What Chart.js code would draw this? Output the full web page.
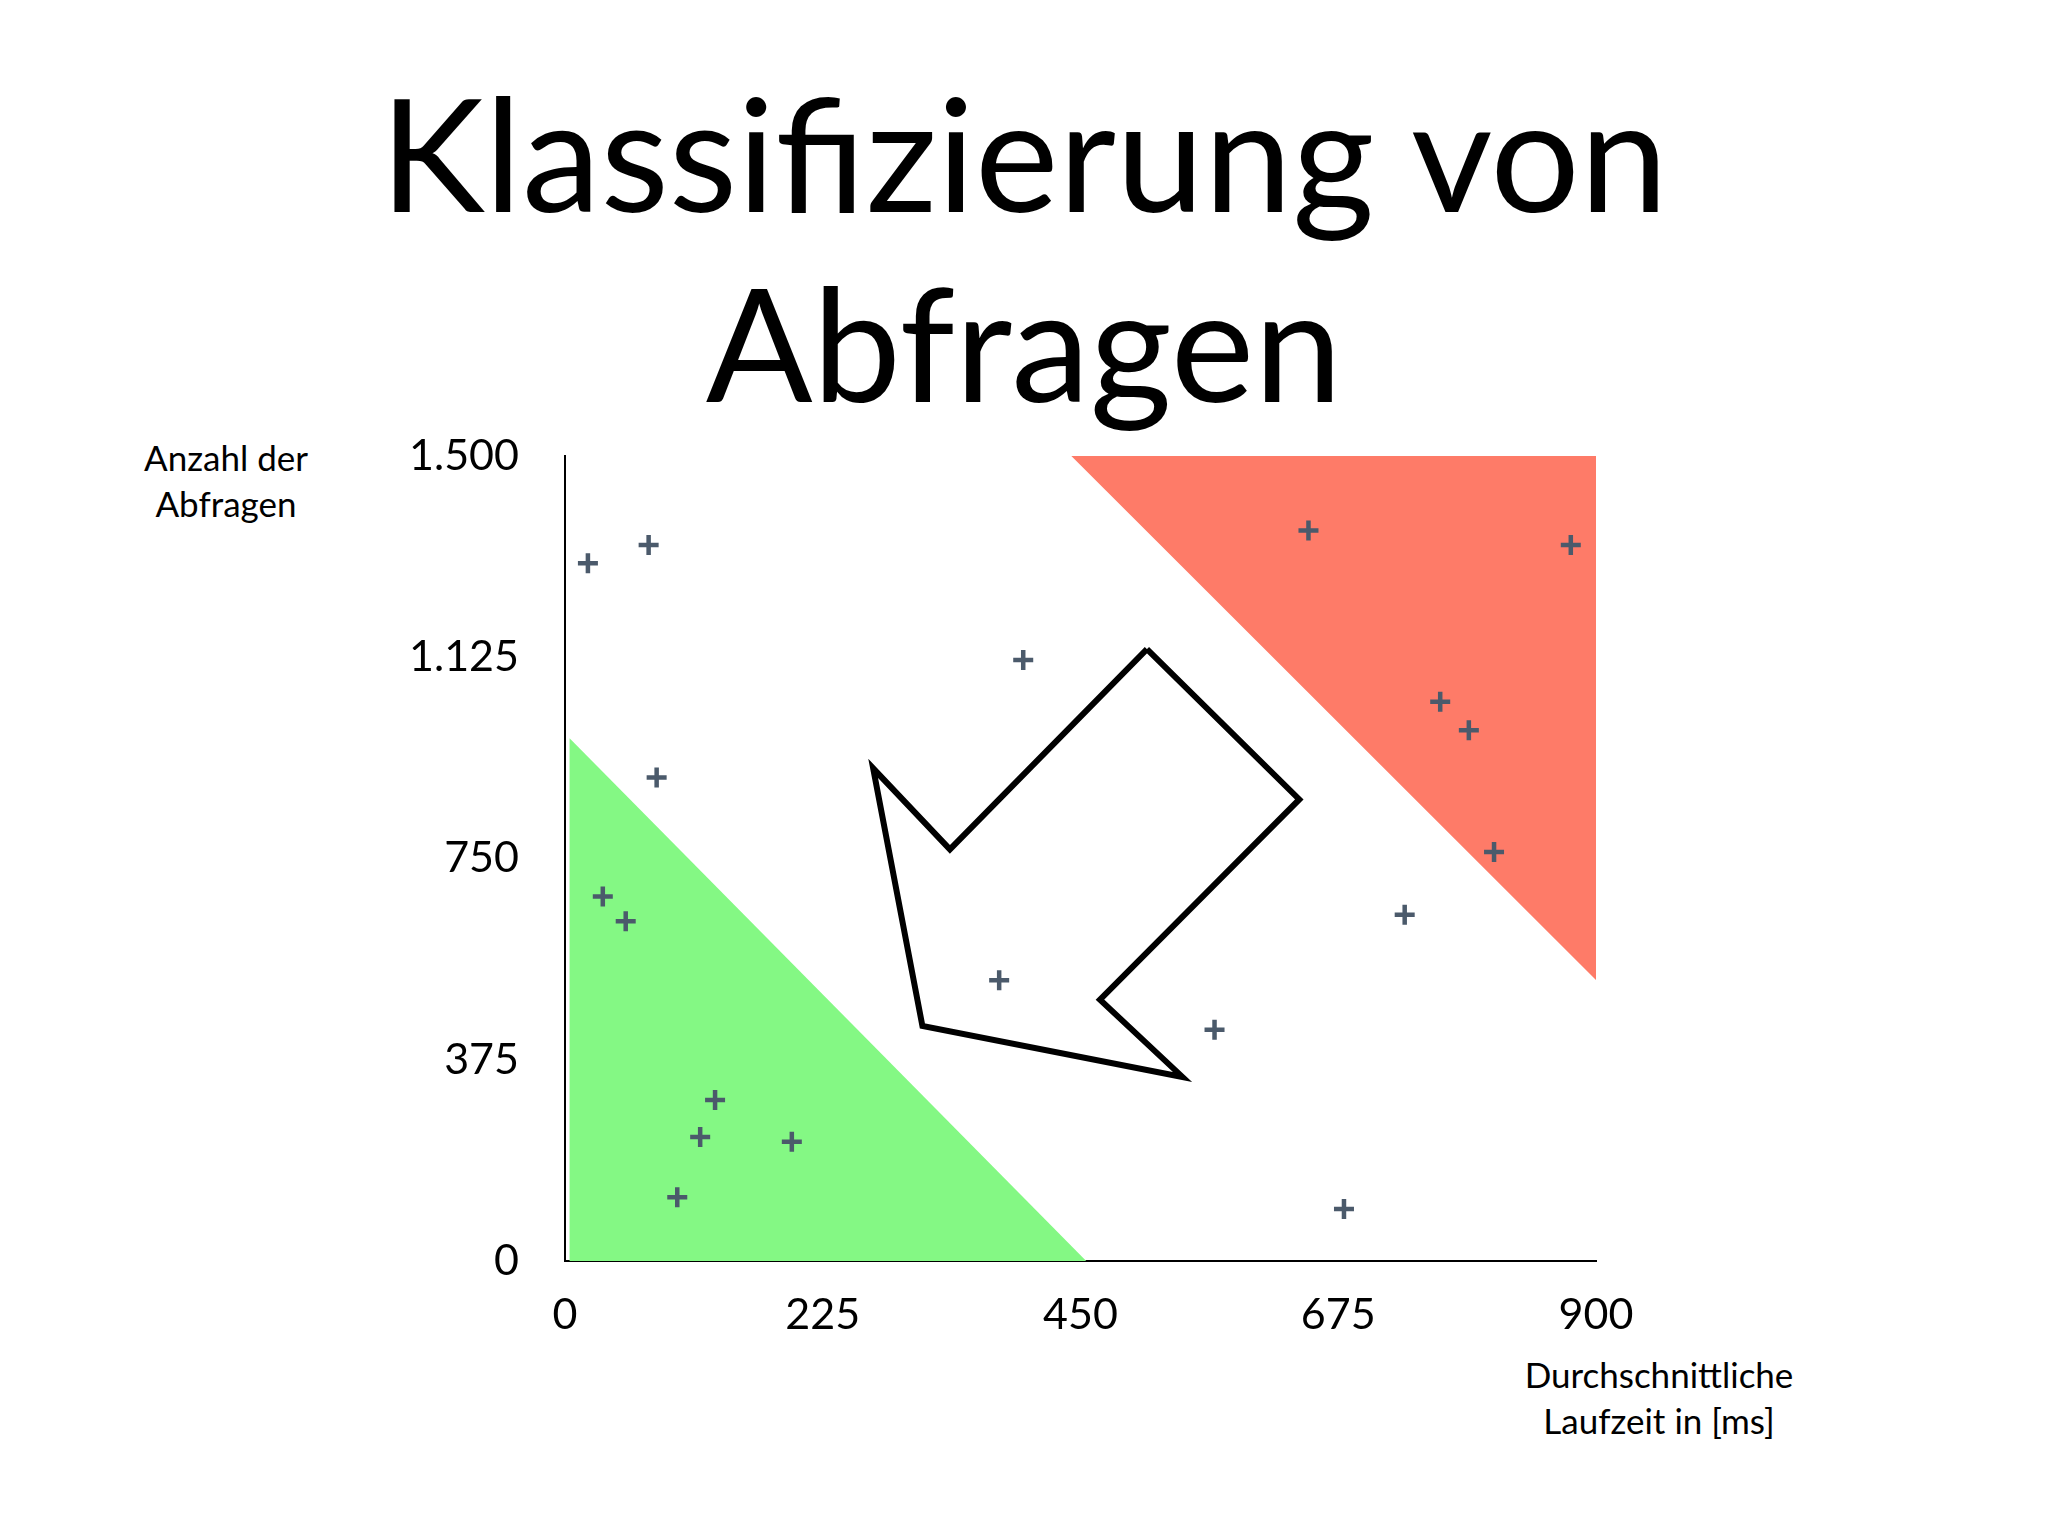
<!DOCTYPE html>
<html><head><meta charset="utf-8">
<script src="https://cdn.jsdelivr.net/npm/chart.js@4"></script>
<style>
body{margin:0;background:#fff;width:2048px;height:1536px;overflow:hidden;font-family:Lato,"Open Sans",sans-serif;}
#wrap{position:absolute;left:0;top:0;width:2048px;height:1536px;}
.t{position:absolute;left:0;width:2048px;text-align:center;font-size:158px;line-height:1;color:#000;}
.lab{position:absolute;font-size:35px;line-height:46px;text-align:center;color:#000;}
</style></head><body>
<div class="t" style="top:72px">Klassifizierung von</div>
<div class="t" style="top:262px">Abfragen</div>
<div class="lab" style="left:106px;top:434px;width:240px">Anzahl der<br>Abfragen</div>
<div class="lab" style="left:1479px;top:1351px;width:360px">Durchschnittliche<br>Laufzeit in [ms]</div>
<div id="wrap"><canvas id="c" width="2048" height="1536"></canvas></div>
<script>
const xTicks=[0,225,450,675,900];
const yTicks=[0,375,750,1125,1500];
const queries=[
{x:20,y:1300},{x:73,y:1334},{x:80,y:901},{x:33,y:679},{x:53,y:633},
{x:131,y:300},{x:118,y:231},{x:198,y:222},{x:98,y:119},
{x:400,y:1120},{x:379,y:523},{x:567,y:431},{x:680,y:97},{x:733,y:645},
{x:649,y:1361},{x:878,y:1334},{x:764,y:1042},{x:789,y:989},{x:811,y:762}];
const greenZone=[{x:4,y:0},{x:4,y:974},{x:455,y:0},{x:4,y:0}];
const redZone=[{x:442,y:1500},{x:906,y:1500},{x:906,y:511},{x:442,y:1500}];
const arrow=[{x:508,y:1140},{x:641,y:860},{x:467,y:487},{x:539,y:343},{x:312,y:438},{x:269,y:918},{x:336,y:767},{x:508,y:1140}];
Chart.defaults.font.family='Lato, "Open Sans", sans-serif';
new Chart(document.getElementById('c'),{
type:'scatter',
data:{datasets:[
{data:greenZone,showLine:true,fill:'shape',backgroundColor:'#84f884',borderWidth:0,pointRadius:0,order:5,clip:false},
{data:redZone,showLine:true,fill:'shape',backgroundColor:'#fe7b68',borderWidth:0,pointRadius:0,order:4,clip:false},
{data:arrow,showLine:true,fill:false,borderColor:'#000',borderWidth:6,pointRadius:0,order:3,clip:false,borderJoinStyle:'miter'},
{data:queries,pointStyle:'cross',pointRadius:10,borderWidth:4.5,borderColor:'#4b5a6b',backgroundColor:'#4b5a6b',order:1}
]},
options:{responsive:false,animation:false,
layout:{padding:{left:0,top:456,right:452,bottom:0}},
plugins:{legend:{display:false},tooltip:{enabled:false}},
scales:{
x:{type:'linear',min:0,max:900,afterBuildTicks:a=>{a.ticks=xTicks.map(v=>({value:v}));},
 afterFit:s=>{s.height=275;},grid:{display:false},border:{display:true,color:'#000',width:2},
 ticks:{color:'#000',font:{size:43},padding:20}},
y:{type:'linear',min:0,max:1500,afterBuildTicks:a=>{a.ticks=yTicks.map(v=>({value:v}));},
 afterFit:s=>{s.width=565;},grid:{display:false},border:{display:true,color:'#000',width:2},
 ticks:{color:'#000',font:{size:43},padding:38,callback:v=>v.toLocaleString('de-DE')}}
}}});
</script></body></html>
